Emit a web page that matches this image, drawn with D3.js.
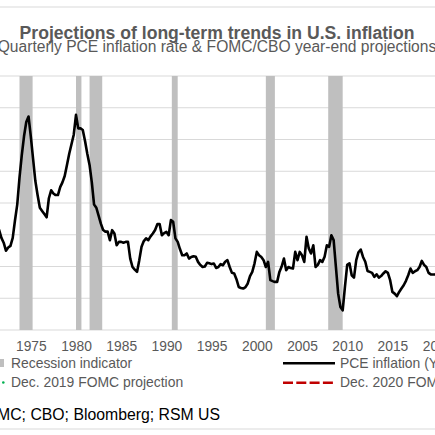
<!DOCTYPE html>
<html>
<head>
<meta charset="utf-8">
<script src="https://cdn.jsdelivr.net/npm/d3@7"></script>
<style>
  html, body { margin: 0; padding: 0; background: #fff; }
  svg { display: block; font-family: "Liberation Sans", Arial, sans-serif; }
</style>
</head>
<body>
<div id="chart"></div>
<script>
// quarterly PCE inflation, year over year (%), starting 1971 Q1
var startYear = 1971;
var pce = [
  4.4, 4.4, 4.3, 3.8,      // 1971
  3.5, 3.0, 3.2, 3.3,      // 1972
  3.8, 4.9, 5.9, 7.6,      // 1973
  9.0, 10.2, 11.1, 11.45,  // 1974
  10.2, 8.8, 7.4, 6.5,     // 1975
  5.7, 5.5, 5.3, 5.1,      // 1976
  6.3, 6.8, 6.6, 6.5,      // 1977
  6.5, 7.0, 7.3, 7.7,      // 1978
  8.4, 9.1, 9.7, 10.3,     // 1979
  11.55, 10.7, 10.7, 10.6, // 1980
  9.9, 9.1, 8.4, 7.3,      // 1981
  5.9, 5.7, 5.2, 4.7,      // 1982
  4.3, 4.2, 4.2, 3.66,     // 1983
  4.29, 4.08, 3.34, 3.55,  // 1984
  3.55, 3.5, 3.55, 3.55,   // 1985
  2.5, 1.97, 1.8, 1.66,    // 1986
  2.4, 3.24, 3.6, 3.77,    // 1987
  3.66, 3.9, 4.08, 4.3,    // 1988
  4.67, 4.67, 3.97, 4.1,   // 1989
  4.18, 3.97, 4.92, 4.81,  // 1990
  3.77, 3.55, 3.1, 2.71,   // 1991
  2.71, 2.82, 2.5, 2.6,    // 1992
  2.65, 2.61, 2.29, 2.1,   // 1993
  1.97, 2.0, 2.23, 2.2,    // 1994
  2.15, 2.19, 1.91, 1.97,  // 1995
  2.15, 2.08, 2.3, 2.4,    // 1996
  1.97, 1.6, 1.56, 1.2,    // 1997
  0.71, 0.65, 0.61, 0.7,   // 1998
  0.93, 1.4, 1.66, 2.2,    // 1999
  2.92, 2.71, 2.6, 2.4,    // 2000
  1.97, 2.29, 1.14, 1.08,  // 2001
  1.03, 1.03, 1.66, 2.0,   // 2002
  2.5, 1.77, 1.97, 1.9,    // 2003
  1.87, 2.92, 2.4, 2.92,   // 2004
  2.71, 2.29, 3.87, 3.14,  // 2005
  2.82, 3.34, 1.97, 2.1,   // 2006
  2.4, 2.29, 2.61, 3.34,   // 2007
  3.24, 3.97, 3.66, 1.97,  // 2008
  0.29, -0.55, -0.76, 0.71,// 2009
  2.1, 2.2, 1.45, 1.3,     // 2010
  2.4, 2.9, 3.07, 2.6,     // 2011
  2.3, 1.72, 1.66, 1.6,    // 2012
  1.34, 1.51, 1.3, 1.4,    // 2013
  1.56, 1.7, 1.6, 1.14,    // 2014
  0.4, 0.29, 0.13, 0.4,    // 2015
  0.61, 0.82, 1.1, 1.45,   // 2016
  1.87, 1.6, 1.7, 1.77,    // 2017
  1.97, 2.35, 2.1, 1.97,   // 2018
  1.6, 1.5, 1.5, 1.5,      // 2019
  1.6                      // 2020
];

// recession periods (decimal years)
var recStart = [1973.75, 1980.0, 1981.5, 1990.6, 2001.0, 2007.9];
var recEnd   = [1975.2, 1980.6, 1982.9, 1991.25, 2002.0, 2009.5];

var xTicks = [1975, 1980, 1985, 1990, 1995, 2000, 2005, 2010, 2015, 2020];
var yTicks = [-2, 0, 2, 4, 6, 8, 10, 12, 14];

var width = 435, height = 435;
var grey = "#595959";

var svg = d3.select("#chart").append("svg")
    .attr("width", width)
    .attr("height", height);

var x = d3.scaleLinear()
    .domain([1970, 2020])
    .range([-14.4, 437.6]);

var y = d3.scaleLinear()
    .domain([-2, 14])
    .range([330, 76]);

// frame of the chart image
svg.append("line")
    .attr("x1", 0).attr("x2", width)
    .attr("y1", 7).attr("y2", 7)
    .attr("stroke", "#d9d9d9").attr("stroke-width", 1.2);
svg.append("line")
    .attr("x1", 0).attr("x2", width)
    .attr("y1", 429).attr("y2", 429)
    .attr("stroke", "#d9d9d9").attr("stroke-width", 1.2);

// titles
svg.append("text")
    .attr("x", 217).attr("y", 38.5)
    .attr("text-anchor", "middle")
    .attr("fill", grey)
    .attr("font-size", 17.6)
    .attr("font-weight", "bold")
    .text("Projections of long-term trends in U.S. inflation");

svg.append("text")
    .attr("x", 217).attr("y", 52)
    .attr("text-anchor", "middle")
    .attr("fill", grey)
    .attr("font-size", 15.6)
    .text("Quarterly PCE inflation rate & FOMC/CBO year-end projections");

// gridlines
svg.append("g")
  .selectAll("line")
  .data(yTicks)
  .enter().append("line")
    .attr("x1", 0).attr("x2", width)
    .attr("y1", d => y(d)).attr("y2", d => y(d))
    .attr("stroke", "#d9d9d9")
    .attr("stroke-width", 1.2);

// recession bands
var recs = recStart.map((s, i) => [s, recEnd[i]]);
svg.append("g")
  .selectAll("rect")
  .data(recs)
  .enter().append("rect")
    .attr("x", d => x(d[0]))
    .attr("width", d => x(d[1]) - x(d[0]))
    .attr("y", y(14))
    .attr("height", y(-2) - y(14))
    .attr("fill", "#bfbfbf");

// PCE line
var series = pce.map((v, i) => [startYear + i * 0.25, v]);
var line = d3.line()
    .x(d => x(d[0]))
    .y(d => y(d[1]));

svg.append("path")
    .datum(series)
    .attr("fill", "none")
    .attr("stroke", "#000")
    .attr("stroke-width", 2.6)
    .attr("stroke-linejoin", "round")
    .attr("d", line);

// x axis labels
var xAxis = d3.axisBottom(x)
    .tickValues(xTicks)
    .tickFormat(d3.format("d"))
    .tickSize(0)
    .tickPadding(0);

var gx = svg.append("g")
    .attr("transform", `translate(0,${y(-2)})`)
    .call(xAxis);
gx.select(".domain").remove();
gx.selectAll("text")
    .attr("dy", null)
    .attr("y", 20.5)
    .attr("fill", grey)
    .attr("font-size", 13.8)
    .attr("font-family", "Liberation Sans, Arial, sans-serif");

// legend
var leg = svg.append("g")
    .attr("fill", grey)
    .attr("font-size", 13.9);

leg.append("rect")
    .attr("x", -4).attr("y", 359)
    .attr("width", 8).attr("height", 8)
    .attr("fill", "#bfbfbf");
leg.append("text").attr("x", 11).attr("y", 367.5).text("Recession indicator");

leg.append("circle")
    .attr("cx", 3.3).attr("cy", 382.5).attr("r", 1.3)
    .attr("fill", "#00b050");
leg.append("text").attr("x", 11).attr("y", 387).text("Dec. 2019 FOMC projection");

leg.append("line")
    .attr("x1", 283).attr("x2", 335)
    .attr("y1", 363.3).attr("y2", 363.3)
    .attr("stroke", "#000").attr("stroke-width", 2.6);
leg.append("text").attr("x", 340).attr("y", 367.5).text("PCE inflation (YoY)");

leg.append("line")
    .attr("x1", 283).attr("x2", 335)
    .attr("y1", 382.7).attr("y2", 382.7)
    .attr("stroke", "#c00000").attr("stroke-width", 2.6)
    .attr("stroke-dasharray", "10,3.3");
leg.append("text").attr("x", 340).attr("y", 387).text("Dec. 2020 FOMC projection");

// source note
svg.append("text")
    .attr("x", 220).attr("y", 419.5)
    .attr("text-anchor", "end")
    .attr("fill", "#000")
    .attr("font-size", 15.8)
    .text("Source: FOMC; CBO; Bloomberg; RSM US");
</script>
</body>
</html>
